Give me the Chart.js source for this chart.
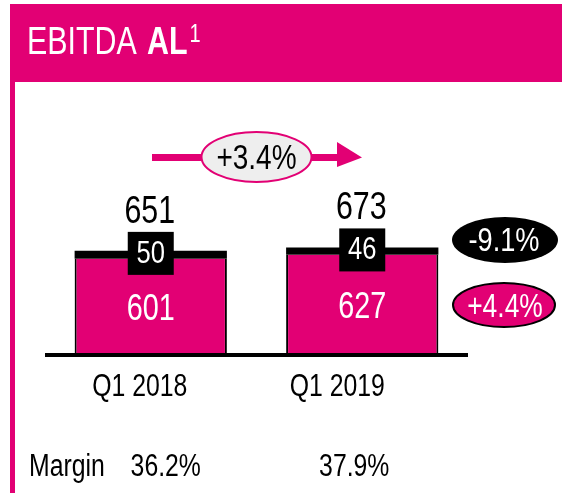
<!DOCTYPE html>
<html>
<head>
<meta charset="utf-8">
<script src="https://cdn.jsdelivr.net/npm/chart.js@4/dist/chart.umd.min.js"></script>
<style>
  html, body { margin: 0; padding: 0; background: #fff; }
  #wrap { width: 562px; height: 493px; position: relative; }
</style>
</head>
<body>
<div id="wrap"><canvas id="ebitdaChart"></canvas></div>
<script>
// data
const categories = ['Q1 2018', 'Q1 2019'];
const baseValues = [601, 627];
const leaseValues = [50, 46];
const totalValues = [651, 673];
const margins = ['36.2%', '37.9%'];
const totalGrowth = '+3.4%';
const leaseGrowth = '-9.1%';
const baseGrowth = '+4.4%';

const MAGENTA = '#E20074';
const FONT = '"Liberation Sans", Arial, sans-serif';
const NARROW = 0.8; // squeeze text to look like the condensed corporate font

function font(size, weight) {
  return (weight || 'normal') + ' ' + size + 'px ' + FONT;
}

// draw text horizontally squeezed, returns drawn width
function text(ctx, str, x, y, align) {
  ctx.save();
  ctx.translate(x, y);
  ctx.scale(NARROW, 1);
  ctx.textAlign = align || 'center';
  ctx.fillText(str, 0, 0);
  const w = ctx.measureText(str).width * NARROW;
  ctx.restore();
  return w;
}

function ellipse(ctx, cx, cy, rx, ry, fill, stroke, lw) {
  ctx.beginPath();
  ctx.ellipse(cx, cy, rx, ry, 0, 0, Math.PI * 2);
  ctx.fillStyle = fill;
  ctx.fill();
  if (stroke) {
    ctx.lineWidth = lw;
    ctx.strokeStyle = stroke;
    ctx.stroke();
  }
}

// frame, title, labels and badges
const decorPlugin = {
  id: 'decor',
  beforeDraw(chart) {
    const ctx = chart.ctx;
    ctx.save();
    ctx.fillStyle = MAGENTA;
    ctx.fillRect(10, 4, 552, 78);
    ctx.fillRect(10, 82, 5, 411);

    ctx.fillStyle = '#fff';
    ctx.textBaseline = 'alphabetic';
    ctx.font = font(38);
    text(ctx, 'EBITDA', 27, 54, 'left');
    ctx.font = font(38, 'bold');
    const w = text(ctx, 'AL', 147, 54, 'left');
    ctx.font = font(25);
    text(ctx, '1', 147 + w + 2, 42, 'left');
    ctx.restore();
  },
  afterDatasetsDraw(chart) {
    const ctx = chart.ctx;
    const area = chart.chartArea;
    const y = chart.scales.y;
    const meta = chart.getDatasetMeta(0);
    ctx.save();

    // baseline
    ctx.fillStyle = '#000';
    ctx.fillRect(area.left, y.getPixelForValue(0), area.right - area.left, 4);

    meta.data.forEach((bar, i) => {
      const cx = bar.x;
      const topY = y.getPixelForValue(totalValues[i]);
      const baseTop = y.getPixelForValue(baseValues[i]);
      const zeroY = y.getPixelForValue(0);

      ctx.fillStyle = '#000';
      ctx.textBaseline = 'alphabetic';
      ctx.font = font(38);
      text(ctx, String(totalValues[i]), cx - 1, topY - 28);

      ctx.fillRect(cx - 23, topY - 19, 46, 43);
      ctx.fillStyle = '#fff';
      ctx.textBaseline = 'middle';
      ctx.font = font(32);
      text(ctx, String(leaseValues[i]), cx, topY + 3);

      ctx.font = font(36);
      text(ctx, String(baseValues[i]), cx, (baseTop + zeroY) / 2 + 4);

      ctx.fillStyle = '#000';
      ctx.font = font(31);
      text(ctx, categories[i], cx + [-11, -25][i], 387);
      text(ctx, margins[i], cx + [15, -8][i], 467);
    });

    text(ctx, 'Margin', 29, 467, 'left');

    // growth arrow
    ctx.fillStyle = MAGENTA;
    ctx.fillRect(152, 154, 190, 7);
    ctx.beginPath();
    ctx.moveTo(337, 142);
    ctx.lineTo(362, 157.5);
    ctx.lineTo(337, 167);
    ctx.closePath();
    ctx.fill();
    ellipse(ctx, 256.5, 157, 55, 25, '#eeeeee', MAGENTA, 2);
    ctx.fillStyle = '#000';
    ctx.textBaseline = 'middle';
    ctx.font = font(35);
    text(ctx, totalGrowth, 256.5, 159);

    // segment growth badges
    ellipse(ctx, 505, 240, 53, 23, '#000', null, 0);
    ctx.fillStyle = '#fff';
    ctx.font = font(34);
    text(ctx, leaseGrowth, 504, 242);
    ellipse(ctx, 504, 305, 51, 22, MAGENTA, '#000', 2);
    ctx.fillStyle = '#fff';
    ctx.font = font(33);
    text(ctx, baseGrowth, 505, 308);

    ctx.restore();
  }
};

new Chart(document.getElementById('ebitdaChart'), {
  type: 'bar',
  data: {
    labels: categories,
    datasets: [
      {
        label: 'EBITDA AL excl. lease',
        data: baseValues,
        backgroundColor: MAGENTA,
        borderColor: '#000',
        borderWidth: { left: 2, right: 2, top: 0, bottom: 0 },
        borderSkipped: false,
        barPercentage: 0.72,
        categoryPercentage: 1,
      },
      {
        label: 'Lease',
        data: leaseValues,
        backgroundColor: '#000',
        borderWidth: 0,
        barPercentage: 0.72,
        categoryPercentage: 1,
      },
    ],
  },
  options: {
    responsive: true,
    maintainAspectRatio: false,
    animation: false,
    layout: { padding: { top: 102, bottom: 140, left: 45, right: 94 } },
    plugins: { legend: { display: false }, tooltip: { enabled: false } },
    scales: {
      x: { stacked: true, display: false },
      y: { stacked: true, display: false, min: 0, max: 1600 },
    },
  },
  plugins: [decorPlugin],
});
</script>
</body>
</html>
